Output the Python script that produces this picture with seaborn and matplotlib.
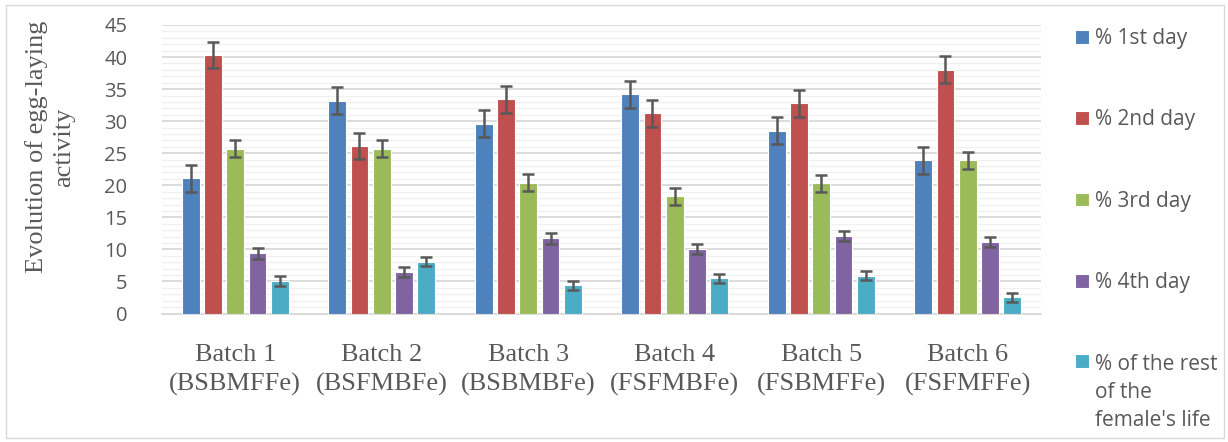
import matplotlib
matplotlib.use("Agg")
import matplotlib.pyplot as plt
import numpy as np
import pandas as pd
import seaborn as sns
from matplotlib.ticker import MultipleLocator
from matplotlib.patches import Rectangle

batches = ["Batch 1\n(BSBMFFe)", "Batch 2\n(BSFMBFe)", "Batch 3\n(BSBMBFe)",
           "Batch 4\n(FSFMBFe)", "Batch 5\n(FSBMFFe)", "Batch 6\n(FSFMFFe)"]
series = ["% 1st day", "% 2nd day", "% 3rd day", "% 4th day",
          "% of the rest\nof the\nfemale's life"]
day1 = [21.1, 33.2, 29.6, 34.2, 28.5, 23.9]
day2 = [40.3, 26.1, 33.4, 31.2, 32.8, 38.0]
day3 = [25.7, 25.7, 20.4, 18.3, 20.3, 23.9]
day4 = [9.4, 6.5, 11.7, 10.1, 12.1, 11.2]
rest = [5.1, 8.1, 4.4, 5.5, 5.9, 2.5]
err1 = [2.1, 2.1, 2.1, 2.1, 2.1, 2.1]
err2 = [2.0, 2.0, 2.1, 2.1, 2.1, 2.1]
err3 = [1.3, 1.3, 1.3, 1.3, 1.3, 1.3]
err4 = [0.85, 0.8, 0.8, 0.8, 0.8, 0.8]
err5 = [0.75, 0.7, 0.7, 0.7, 0.7, 0.7]

colors = ["#4F81BD", "#C0504D", "#9BBB59", "#8064A2", "#4BACC6"]
txt = "#595959"

df = pd.DataFrame({
    "batch": batches * 5,
    "series": np.repeat(series, len(batches)),
    "value": day1 + day2 + day3 + day4 + rest,
    "err": err1 + err2 + err3 + err4 + err5,
})

sns.set_style("white")
plt.rcParams["font.family"] = ["Liberation Serif", "DejaVu Serif"]

fig = plt.figure(figsize=(12.28, 4.42), dpi=100)
ax = fig.add_axes([162 / 1228, 1 - 313.5 / 442, (1041 - 162) / 1228, (313.5 - 25) / 442])

sns.barplot(data=df, x="batch", y="value", hue="series", palette=colors, saturation=1,
            width=0.76, gap=0.2, edgecolor="white", linewidth=0.8,
            errorbar=None, ax=ax, legend=True, zorder=3)

# error bars at the centres of the drawn bars
bars = [p for p in ax.patches if p.get_height() > 0]
for i, p in enumerate(bars[:len(df)]):
    ax.errorbar(p.get_x() + p.get_width() / 2, p.get_height(), yerr=df["err"].iloc[i],
                fmt="none", ecolor="#595959", elinewidth=1.8, capsize=4.5,
                capthick=1.8, zorder=4)

ax.set_ylim(0, 45)
ax.set_xlim(-0.5, 5.5)
ax.yaxis.set_major_locator(MultipleLocator(5))
ax.yaxis.set_minor_locator(MultipleLocator(1))
ax.grid(axis="y", which="major", color="#D9D9D9", linewidth=1.3, zorder=0)
ax.grid(axis="y", which="minor", color="#F0F0F0", linewidth=1.0, zorder=0)
ax.set_axisbelow(True)
for s in ["top", "right", "left"]:
    ax.spines[s].set_visible(False)
ax.spines["bottom"].set_color("#D9D9D9")
ax.spines["bottom"].set_linewidth(1.3)
ax.tick_params(axis="both", which="both", length=0, colors=txt)
ax.tick_params(axis="x", pad=22, labelsize=19)
ax.tick_params(axis="y", pad=25, labelsize=14.5)
for lab in ax.get_xticklabels():
    lab.set_linespacing(1.4)
for lab in ax.get_yticklabels():
    lab.set_fontfamily(["Open Sans", "DejaVu Sans"])
ax.set_xlabel("")
ax.set_ylabel("")
fig.text(50 / 1228, 1 - 147 / 442, "Evolution of egg-laying\nactivity", rotation=90,
         ha="center", va="center", fontsize=19, color=txt, linespacing=1.3)

handles, labels = ax.get_legend_handles_labels()
ax.get_legend().remove()
leg = fig.legend(handles, labels, loc="upper left", bbox_to_anchor=(1075 / 1228, 1 - 28 / 442),
                 frameon=False, prop={"family": ["Open Sans", "DejaVu Sans"], "size": 15},
                 labelcolor=txt, handlelength=0.65, handleheight=0.65, handletextpad=0.3,
                 labelspacing=2.9, borderpad=0, borderaxespad=0)
for t in leg.get_texts():
    t.set_linespacing(1.45)
# square of the three-line entry sits on its first line
leg._legend_handle_box.get_children()[0].get_children()[-1].align = "top"

fig.patches.append(Rectangle((6 / 1228, 4 / 442), 1 - 10 / 1228, 1 - 9 / 442,
                             transform=fig.transFigure, fill=False,
                             edgecolor="#D9D9D9", linewidth=1))

fig.savefig("out.png", dpi=100)
